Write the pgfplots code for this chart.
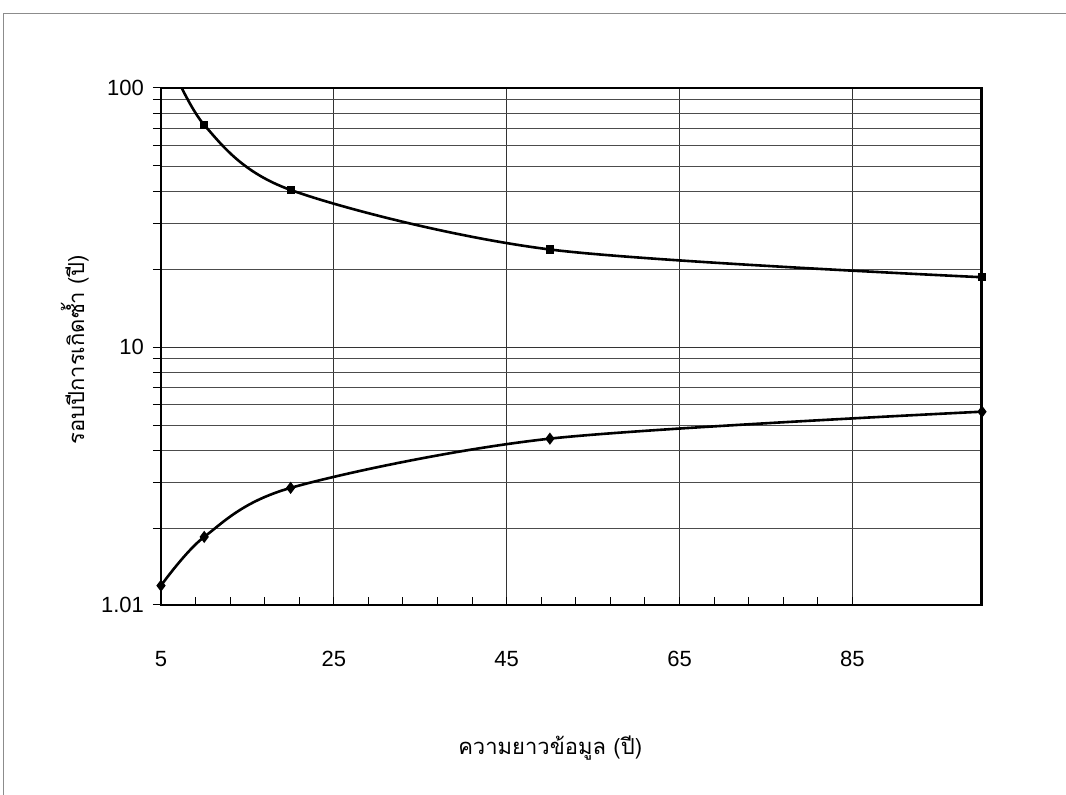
\documentclass[border=0pt]{standalone}
\usepackage{pgfplots}
\pgfplotsset{compat=1.18}
\usepackage{fontspec}
\setmainfont{Liberation Sans}
\newfontfamily\thaifont[Script=Thai]{Loma}

\begin{document}
\begin{tikzpicture}
  % page frame: 1066 x 795 px at 0.5pt per px, axis corner at (161,605) px
  \useasboundingbox (-80.5pt,-95pt) rectangle (452.5pt,302.5pt);
  \draw[black!45, line width=0.5pt] (-78.5pt,-95pt) -- (-78.5pt,295.5pt) -- (452.5pt,295.5pt);
  \begin{axis}[
      at={(0,0)}, anchor=south west,
      scale only axis,
      width=410.5pt, height=258.5pt,
      xmin=5, xmax=100,
      ymode=log, ymin=1.01, ymax=100,
      xtick={5,25,45,65,85},
      minor x tick num=4,
      ytick={1.01,10,100},
      yticklabels={1.01,10,100},
      minor ytick={2,3,4,5,6,7,8,9,20,30,40,50,60,70,80,90},
      xmajorgrids=true,
      ymajorgrids=true, yminorgrids=true,
      major grid style={black!80, line width=0.5pt},
      minor grid style={black!70, line width=0.45pt},
      x tick style={black, line width=0.5pt},
      y tick style={black, line width=0.5pt},
      xtick align=inside, ytick align=outside,
      major tick length=4pt, minor tick length=4pt,
      xtick pos=bottom, ytick pos=left,
      axis line style={black, line width=0.6pt},
      tick label style={font=\fontsize{11}{13}\selectfont, /pgf/number format/assume math mode=true},
      xticklabel style={anchor=center, yshift=-27pt},
      yticklabel style={anchor=east, xshift=-1pt},
      xlabel={\thaifont ความยาวข้อมูล (ปี)},
      ylabel={\thaifont รอบปีการเกิดซ้ำ (ปี)},
      label style={font=\fontsize{11}{13}\selectfont},
      xlabel style={at={(axis description cs:0.474,0)}, anchor=center, yshift=-71.5pt},
      ylabel style={at={(axis description cs:-0.105,0.493)}, anchor=center},
      clip=true,
    ]
    % upper curve (runs above 100 at x=5, clipped)
    \addplot[black, line width=1.3pt, smooth, no marks] coordinates {
      (5,150) (10,72) (20,40.4) (50,23.8) (100,18.6)
    };
    \addplot[only marks, black, mark=square*, mark size=1.8pt] coordinates {
      (10,72) (20,40.4) (50,23.8) (100,18.6)
    };
    % lower curve
    \addplot[black, line width=1.3pt, smooth, mark=diamond*, mark size=2pt] coordinates {
      (5,1.2) (10,1.85) (20,2.86) (50,4.43) (100,5.63)
    };
    \draw[black, line width=1.5pt] (rel axis cs:1,0) -- (rel axis cs:1,1);
  \end{axis}
\end{tikzpicture}
\end{document}
